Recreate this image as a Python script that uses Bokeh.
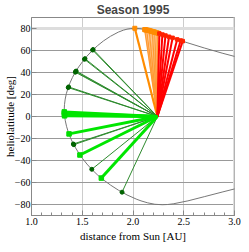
from bokeh.plotting import figure
from bokeh.models import Range1d, FixedTicker, SingleIntervalTicker, Span, NumeralTickFormatter
from bokeh.embed import file_html
from bokeh.resources import INLINE

# Orbit track (distance from Sun [AU], heliolatitude [deg])
orbit_r = [3.071, 2.878, 2.702, 2.541, 2.396, 2.341, 2.289, 2.215, 2.145, 2.079, 2.038,
           1.941, 1.855, 1.778, 1.709, 1.648, 1.594, 1.546, 1.504, 1.467, 1.434,
           1.405, 1.381, 1.361, 1.345, 1.333, 1.325, 1.322, 1.325, 1.332, 1.343,
           1.359, 1.379, 1.403, 1.431, 1.465, 1.504, 1.546, 1.594, 1.648, 1.709,
           1.778, 1.855, 1.906, 1.941, 1.979, 2.018, 2.079, 2.145, 2.264, 2.396,
           2.541, 2.702, 2.878, 3.071]
orbit_lat = [-64.2, -68.7, -72.9, -76.7, -79.4, -80.0, -80.2, -79.8, -78.5, -76.7, -75.3,
             -71.3, -66.9, -62.3, -57.6, -52.9, -48.1, -43.2, -38.3, -33.4, -28.5,
             -23.6, -18.7, -13.8, -8.9, -3.9, 1.0, 5.9, 10.8, 15.8, 20.7,
             25.6, 30.5, 35.4, 40.3, 45.1, 50.0, 54.8, 59.5, 64.2, 68.7,
             72.9, 76.7, 78.5, 79.4, 80.0, 80.2, 79.8, 78.5, 75.3, 71.3,
             66.9, 62.3, 57.6, 52.9]

# Common end point of all connection lines
apex_r = 2.24
apex_lat = 0.0

# Dark green (thin) connections
dkgreen_r = [1.602, 1.607, 1.522, 1.527, 1.432, 1.436, 1.440, 1.362, 1.366,
             1.412, 1.417, 1.594, 1.892]
dkgreen_lat = [60.4, 60.9, 52.0, 52.6, 40.3, 40.8, 41.3, 26.3, 26.9,
               -25.0, -25.6, -48.0, -68.8]

# Bright green (thick) connections
ltgreen_r = [1.326, 1.325, 1.324, 1.323, 1.370, 1.477, 1.688]
ltgreen_lat = [0.6, 1.8, 3.0, 4.2, -15.8, -35.0, -56.0]

# Orange (thick) connection
orange_r = [2.018]
orange_lat = [80.2]

# Orange (medium) connections
orangem_r = [2.115, 2.135, 2.16, 2.19, 2.215, 2.24]
orangem_lat = [78.95, 78.6, 78.1, 77.3, 76.6, 75.9]

# Peach (thin) connections
peach_r = [2.12, 2.13, 2.15, 2.17, 2.18, 2.20, 2.21, 2.23, 2.25]
peach_lat = [78.85, 78.7, 78.4, 77.8, 77.6, 77.0, 76.8, 76.2, 75.7]

# Red (thick) connections
red_r = [2.26, 2.29, 2.32, 2.355, 2.39, 2.435, 2.47, 2.49]
red_lat = [75.4, 74.5, 73.6, 72.5, 71.5, 70.1, 69.1, 68.5]

y_ticks = [-80, -60, -40, -20, 0, 20, 40, 60, 80]
y_labels = {v: (("\u2212" + str(-v)) if v < 0 else str(v)) for v in y_ticks}

serif = "Liberation Serif"

p = figure(width=241, height=244, output_backend="svg", toolbar_location=None,
           x_range=Range1d(1.0, 3.0), y_range=Range1d(-90, 90),
           min_border_left=0, min_border_right=7, min_border_top=0, min_border_bottom=0)

p.title.text = "Season 1995"
p.title.text_font = "Liberation Sans"
p.title.text_font_size = "12px"
p.title.text_font_style = "bold"
p.title.align = "center"
p.title.standoff = 1
p.title.offset = 0

p.outline_line_color = "#888888"
p.background_fill_color = "white"
p.border_fill_color = "white"

# grids
p.xgrid.ticker = FixedTicker(ticks=[1.5, 2.0, 2.5])
p.xgrid.grid_line_color = "#cccccc"
p.xgrid.grid_line_width = 1
p.ygrid.ticker = FixedTicker(ticks=[-80, -60, -40, -20, 0, 20, 40, 60])
p.ygrid.grid_line_color = "#999999"
p.ygrid.grid_line_width = 1
p.add_layout(Span(location=80, dimension="width", line_color="#dddddd", line_width=3, level="underlay"))
p.add_layout(Span(location=3.0, dimension="height", line_color="#dddddd", line_width=3, level="underlay"))

# axes
p.xaxis.ticker = SingleIntervalTicker(interval=0.5, num_minor_ticks=5)
p.xaxis.formatter = NumeralTickFormatter(format="0.0")
p.xaxis.axis_label = "distance from Sun [AU]"
p.yaxis.ticker = FixedTicker(ticks=y_ticks, minor_ticks=[])
p.yaxis.major_label_overrides = y_labels
p.yaxis.axis_label = "heliolatitude [deg]"
for ax in (p.xaxis, p.yaxis):
    ax.axis_line_color = "#888888"
    ax.major_tick_line_color = "#888888"
    ax.minor_tick_line_color = "#888888"
    ax.major_tick_in = 5
    ax.major_tick_out = 0
    ax.minor_tick_in = 3
    ax.minor_tick_out = 0
    ax.major_label_text_font = serif
    ax.major_label_text_font_size = "10px"
    ax.major_label_text_color = "black"
    ax.axis_label_text_font = serif
    ax.axis_label_text_font_size = "11px"
    ax.axis_label_text_font_style = "normal"
    ax.axis_label_text_color = "black"
p.xaxis.major_label_standoff = 2
p.xaxis.axis_label_standoff = 2
p.xaxis.axis_label_text_line_height = 0.3
p.xaxis.major_label_text_line_height = 0.8
p.yaxis.major_label_standoff = 1
p.yaxis.axis_label_standoff = -4
p.yaxis.axis_label_text_line_height = 0.8

# orbit
p.line(orbit_r, orbit_lat, line_color="#777777", line_width=1)

def connect(rs, lats, color, width):
    p.segment(x0=rs, y0=lats, x1=[apex_r] * len(rs), y1=[apex_lat] * len(rs),
              line_color=color, line_width=width)

connect(peach_r, peach_lat, "#ffbf80", 1.2)
connect(orangem_r, orangem_lat, "#ff9a33", 1.3)
connect(orange_r, orange_lat, "#ff8c00", 2.2)
connect(red_r, red_lat, "#ff0000", 2.0)
connect(dkgreen_r, dkgreen_lat, "#2e8b2e", 1.0)
connect(ltgreen_r, ltgreen_lat, "#00e600", 3.0)

# markers
p.scatter(peach_r + orangem_r, peach_lat + orangem_lat, marker="square", size=4,
          fill_color="#ff8c00", line_color="#ff8c00")
p.scatter(orange_r, orange_lat, marker="square", size=4, fill_color="#ff8c00", line_color="#ff8c00")
p.scatter(red_r, red_lat, marker="square", size=3.5, fill_color="#ff2200", line_color="#ff2200")
p.scatter(dkgreen_r, dkgreen_lat, marker="circle", size=4, fill_color="#006400", line_color="#006400")
p.scatter(ltgreen_r, ltgreen_lat, marker="square", size=4.5, fill_color="#00dd00", line_color="#00dd00")

open("out.html", "w").write(file_html(p, INLINE))
